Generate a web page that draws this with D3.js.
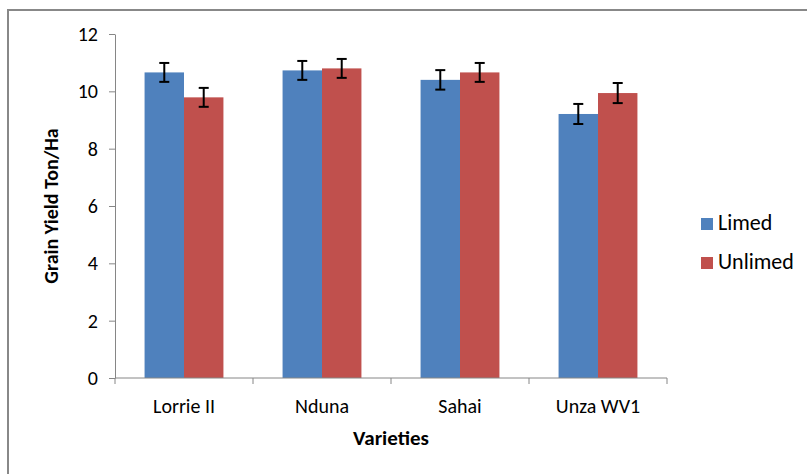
<!DOCTYPE html>
<html>
<head>
<meta charset="utf-8">
<script src="https://cdn.jsdelivr.net/npm/d3@7"></script>
<style>
  body { margin: 0; background: #fff; }
  svg { display: block; }
</style>
</head>
<body>
<div id="chart"></div>
<script>
// data
const varieties = ['Lorrie II', 'Nduna', 'Sahai', 'Unza WV1'];
const series = ['Limed', 'Unlimed'];
const limed = [10.66, 10.73, 10.40, 9.21];
const unlimed = [9.79, 10.80, 10.66, 9.94];
const limedErr = [0.33, 0.33, 0.34, 0.35];
const unlimedErr = [0.33, 0.33, 0.33, 0.35];
const yTicks = [0, 2, 4, 6, 8, 10, 12];
const colors = ['#4F81BD', '#C0504D'];

const width = 807, height = 474;
const font = 'Carlito, Lato, "Open Sans", sans-serif';

const svg = d3.select('#chart').append('svg')
  .attr('width', width)
  .attr('height', height);

// outer chart border (runs off the right and bottom edges)
svg.append('rect')
  .attr('x', 8).attr('y', 10)
  .attr('width', 820).attr('height', 500)
  .attr('fill', 'none')
  .attr('stroke', '#888')
  .attr('stroke-width', 2);

const plot = { left: 115, right: 667, top: 34, bottom: 378 };

const y = d3.scaleLinear().domain([0, 12]).range([plot.bottom, plot.top]);
const x0 = d3.scaleBand().domain(varieties).range([plot.left, plot.right]).padding(0);
const x1 = d3.scaleBand().domain(series).range([0, x0.bandwidth()])
  .paddingInner(0).paddingOuter(0.75);

const rows = varieties.map((v, i) => ({
  name: v,
  vals: [
    { key: 'Limed', value: limed[i], err: limedErr[i], c: colors[0] },
    { key: 'Unlimed', value: unlimed[i], err: unlimedErr[i], c: colors[1] }
  ]
}));

// bars
const groups = svg.append('g').selectAll('g')
  .data(rows)
  .enter().append('g')
  .attr('transform', d => `translate(${x0(d.name)},0)`);

groups.selectAll('rect')
  .data(d => d.vals)
  .enter().append('rect')
  .attr('x', d => x1(d.key))
  .attr('y', d => y(d.value))
  .attr('width', x1.bandwidth())
  .attr('height', d => y(0) - y(d.value))
  .attr('fill', d => d.c);

// error bars
const eb = groups.selectAll('g.err')
  .data(d => d.vals)
  .enter().append('g')
  .attr('class', 'err')
  .attr('stroke', '#000')
  .attr('stroke-width', 2);

const cx = d => x1(d.key) + x1.bandwidth() / 2;
eb.append('line')
  .attr('x1', cx).attr('x2', cx)
  .attr('y1', d => y(d.value + d.err))
  .attr('y2', d => y(d.value - d.err));
eb.append('line')
  .attr('x1', d => cx(d) - 5).attr('x2', d => cx(d) + 5)
  .attr('y1', d => y(d.value + d.err)).attr('y2', d => y(d.value + d.err));
eb.append('line')
  .attr('x1', d => cx(d) - 5).attr('x2', d => cx(d) + 5)
  .attr('y1', d => y(d.value - d.err)).attr('y2', d => y(d.value - d.err));

// y axis
const yAxis = svg.append('g')
  .attr('transform', `translate(${plot.left},0)`)
  .call(d3.axisLeft(y).tickValues(yTicks).tickSize(6).tickPadding(11).tickSizeOuter(0));
yAxis.select('.domain').attr('stroke', '#868686');
yAxis.selectAll('.tick line').attr('stroke', '#868686');
yAxis.selectAll('text')
  .attr('font-family', font).attr('font-size', 20).attr('fill', '#000');

// x axis: ticks sit between categories
const xAxis = svg.append('g')
  .attr('transform', `translate(0,${plot.bottom})`);
xAxis.append('line')
  .attr('x1', plot.left).attr('x2', plot.right)
  .attr('stroke', '#868686');
const edges = varieties.map(v => x0(v)).concat([x0(varieties[varieties.length - 1]) + x0.bandwidth()]);
xAxis.selectAll('line.tick')
  .data(edges)
  .enter().append('line')
  .attr('class', 'tick')
  .attr('x1', d => d).attr('x2', d => d)
  .attr('y1', 0).attr('y2', 6)
  .attr('stroke', '#868686');
xAxis.selectAll('text')
  .data(varieties)
  .enter().append('text')
  .attr('x', d => x0(d) + x0.bandwidth() / 2)
  .attr('y', 35)
  .attr('text-anchor', 'middle')
  .attr('font-family', font).attr('font-size', 20)
  .text(d => d);

// axis titles
svg.append('text')
  .attr('x', (plot.left + plot.right) / 2)
  .attr('y', 445)
  .attr('text-anchor', 'middle')
  .attr('font-family', font).attr('font-size', 21).attr('font-weight', 'bold')
  .text('Varieties');

svg.append('text')
  .attr('transform', `translate(58,${(plot.top + plot.bottom) / 2}) rotate(-90)`)
  .attr('text-anchor', 'middle')
  .attr('font-family', font).attr('font-size', 20).attr('font-weight', 'bold')
  .text('Grain Yield Ton/Ha');

// legend
const legend = svg.append('g')
  .selectAll('g')
  .data(series)
  .enter().append('g')
  .attr('transform', (d, i) => `translate(701,${218 + i * 39})`);
legend.append('rect')
  .attr('width', 12).attr('height', 12)
  .attr('fill', (d, i) => colors[i]);
legend.append('text')
  .attr('x', 17).attr('y', 12)
  .attr('font-family', font).attr('font-size', 22)
  .text(d => d);
</script>
</body>
</html>
